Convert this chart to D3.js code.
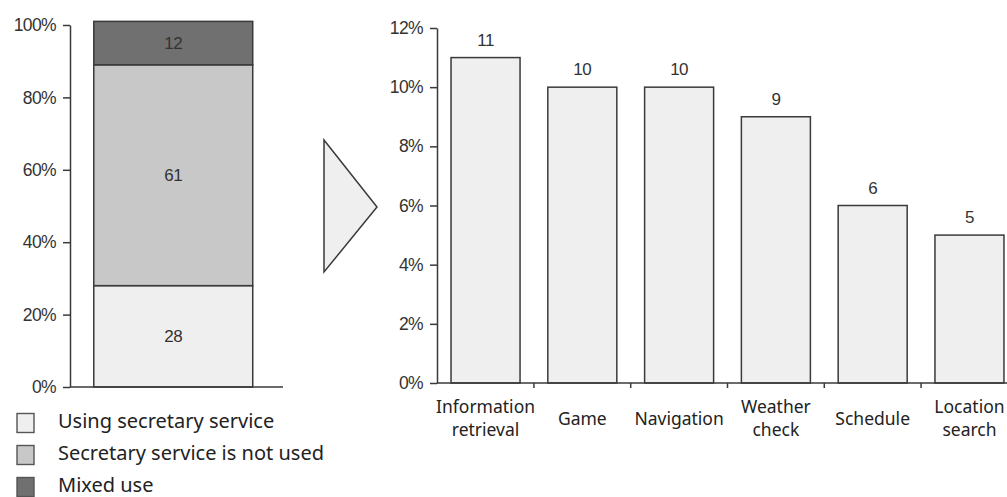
<!DOCTYPE html>
<html>
<head>
<meta charset="utf-8">
<script src="https://cdn.jsdelivr.net/npm/d3@7"></script>
<style>
  body { margin: 0; background: #fff; }
  svg { display: block; }
  .num { font-family: "Liberation Sans", Arial, sans-serif; fill: #333; }
  .lbl { font-family: "Noto Sans", sans-serif; fill: #222; }
</style>
</head>
<body>
<svg id="chart" width="1007" height="497"></svg>
<script>
// left: stacked share of usage types
const stackKeys = ["Using secretary service", "Secretary service is not used", "Mixed use"];
const stackValues = [28, 61, 12];
const stackColors = ["#efefef", "#c8c8c8", "#707070"];
const leftTicks = [0, 20, 40, 60, 80, 100];

// right: services used
const categories = ["Information\nretrieval", "Game", "Navigation", "Weather\ncheck", "Schedule", "Location\nsearch"];
const shares = [11, 10, 10, 9, 6, 5];
const rightTicks = [0, 2, 4, 6, 8, 10, 12];

const svg = d3.select("#chart");
const stroke = "#3a3a3a";

// ---- left chart ----
const yL = d3.scaleLinear().domain([0, 100]).range([387, 25]);
const xL = d3.scaleBand().domain(["all"]).range([70, 283])
    .paddingInner(0).paddingOuter(0.17).align(0.44);

const row = {};
stackKeys.forEach((k, i) => row[k] = stackValues[i]);
const stacked = d3.stack().keys(stackKeys)([row]);

const segs = svg.append("g").selectAll("g")
    .data(stacked)
    .enter()
    .append("g");

segs.append("rect")
    .attr("x", xL("all"))
    .attr("width", xL.bandwidth())
    .attr("y", d => yL(d[0][1]))
    .attr("height", d => yL(d[0][0]) - yL(d[0][1]))
    .attr("fill", (d, i) => stackColors[i])
    .attr("stroke", stroke)
    .attr("stroke-width", 1.5);

segs.append("text")
    .attr("class", "num")
    .attr("x", xL("all") + xL.bandwidth() / 2)
    .attr("y", d => (yL(d[0][0]) + yL(d[0][1])) / 2)
    .attr("dy", "0.35em")
    .attr("text-anchor", "middle")
    .attr("font-size", "17px")
    .attr("letter-spacing", "-0.5")
    .text((d, i) => stackValues[i]);

function styleAxis(ax) {
    ax.select(".domain").attr("stroke", stroke).attr("stroke-width", 1.5);
    ax.selectAll(".tick line").attr("stroke", stroke).attr("stroke-width", 1.5);
    ax.selectAll(".tick text").attr("class", "num").attr("font-size", "17.5px")
        .attr("letter-spacing", "-0.6").attr("x", -14);
}

const axL = svg.append("g")
    .attr("transform", "translate(70,0)")
    .call(d3.axisLeft(yL).tickValues(leftTicks).tickFormat(d => d + "%").tickSize(7).tickSizeOuter(0));
styleAxis(axL);

svg.append("line")
    .attr("x1", 70).attr("x2", 283)
    .attr("y1", yL(0)).attr("y2", yL(0))
    .attr("stroke", stroke).attr("stroke-width", 1.5);

// legend
const leg = svg.append("g").selectAll("g")
    .data(stackKeys)
    .enter()
    .append("g")
    .attr("transform", (d, i) => `translate(17,${423 + i * 32})`);

leg.append("rect")
    .attr("x", 0).attr("y", -9.5)
    .attr("width", 17).attr("height", 19)
    .attr("fill", (d, i) => stackColors[i])
    .attr("stroke", "#555")
    .attr("stroke-width", 1.4);

leg.append("text")
    .attr("class", "lbl")
    .attr("x", 41)
    .attr("y", 5)
    .attr("font-size", "20px")
    .text(d => d);

// arrow between the charts
svg.append("path")
    .attr("d", "M324,140 L377,207 L324,272 Z")
    .attr("fill", "#efefef")
    .attr("stroke", stroke)
    .attr("stroke-width", 1.5);

// ---- right chart ----
const yR = d3.scaleLinear().domain([0, 12]).range([383, 28]);
const xR = d3.scaleBand().domain(categories).range([437, 1018]).paddingInner(0.287).paddingOuter(0.145);

svg.append("g").selectAll("rect")
    .data(shares)
    .enter()
    .append("rect")
    .attr("x", (d, i) => xR(categories[i]))
    .attr("width", xR.bandwidth())
    .attr("y", d => yR(d))
    .attr("height", d => yR(0) - yR(d))
    .attr("fill", "#efefef")
    .attr("stroke", stroke)
    .attr("stroke-width", 1.5);

svg.append("g").selectAll("text")
    .data(shares)
    .enter()
    .append("text")
    .attr("class", "num")
    .attr("x", (d, i) => xR(categories[i]) + xR.bandwidth() / 2)
    .attr("y", d => yR(d) - 12)
    .attr("text-anchor", "middle")
    .attr("font-size", "17px")
    .attr("letter-spacing", "-0.5")
    .text(d => d);

const axR = svg.append("g")
    .attr("transform", "translate(437,0)")
    .call(d3.axisLeft(yR).tickValues(rightTicks).tickFormat(d => d + "%").tickSize(7).tickSizeOuter(0));
styleAxis(axR);

// x axis with ticks between bars
const axX = svg.append("g")
    .attr("transform", `translate(0,${yR(0)})`);
axX.append("line")
    .attr("x1", 437).attr("x2", 1018)
    .attr("stroke", stroke).attr("stroke-width", 1.5);
axX.selectAll("line.tk")
    .data(categories.slice(1))
    .enter()
    .append("line")
    .attr("class", "tk")
    .attr("x1", d => xR(d) - xR.step() * xR.paddingInner() / 2)
    .attr("x2", d => xR(d) - xR.step() * xR.paddingInner() / 2)
    .attr("y1", 0).attr("y2", 5)
    .attr("stroke", stroke).attr("stroke-width", 1.5);

const xl = svg.append("g").selectAll("text")
    .data(categories)
    .enter()
    .append("text")
    .attr("class", "lbl")
    .attr("text-anchor", "middle")
    .attr("font-size", "17.5px")
    .attr("transform", d => `translate(${xR(d) + xR.bandwidth() / 2},0)`);

xl.each(function(d) {
    const lines = d.split("\n");
    const t = d3.select(this);
    const y0 = lines.length === 1 ? 425 : 413;
    lines.forEach((ln, j) => {
        t.append("tspan").attr("x", 0).attr("y", y0 + j * 23).text(ln);
    });
});
</script>
</body>
</html>
